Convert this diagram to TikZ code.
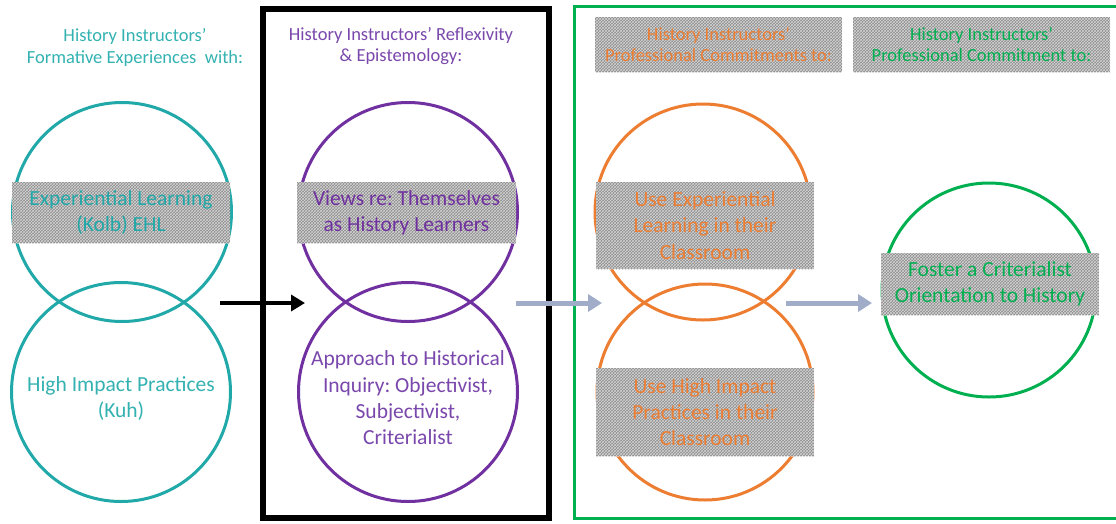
\documentclass[tikz,border=0pt]{standalone}
\usepackage{fontspec}
\setmainfont{Carlito}
\usetikzlibrary{arrows.meta,patterns}
\frenchspacing

\definecolor{tealline}{RGB}{33,168,168}
\definecolor{tealtext}{RGB}{52,178,178}
\definecolor{purpleline}{RGB}{112,48,160}
\definecolor{purpletext}{RGB}{122,72,172}
\definecolor{orangeline}{RGB}{237,125,49}
\definecolor{greenline}{RGB}{0,176,80}
\definecolor{flowarrow}{RGB}{160,172,200}
\definecolor{boxgray}{RGB}{140,140,140}
\definecolor{hatchlight}{RGB}{212,212,212}

\newcommand{\headfont}{\fontsize{18.5}{21.5}\selectfont}
\newcommand{\bodyfont}{\fontsize{21.5}{26.3}\selectfont}

\tikzset{
  ring/.style={circle, draw=#1, line width=3pt, inner sep=0pt},
  hatchbox/.style={rectangle, inner sep=0pt, align=center, font=\bodyfont,
    preaction={fill=boxgray}, pattern=crosshatch, pattern color=hatchlight},
  heading/.style={align=center, font=\headfont, inner sep=0pt},
  plain/.style={align=center, font=\bodyfont, inner sep=0pt},
  blackarrow/.style={line width=4.5pt, -{Triangle[length=14pt,width=16pt]}},
  greyarrow/.style={draw=flowarrow, line width=5pt, -{Triangle[length=14pt,width=17pt]}}
}

\begin{document}
\begin{tikzpicture}[x=1pt,y=-1pt]
\useasboundingbox (0,0) rectangle (1116,523);
\fill[white] (0,0) rectangle (1116,523);

% ---------- column 1: formative experiences ----------
\node[heading, text=tealtext] (headA) at (135,47.5)
  {History Instructors'\\Formative Experiences\ \ with:};
\node[ring=tealline, minimum size=219pt] (tealTop) at (122,212) {};
\node[ring=tealline, minimum size=219pt] (tealBot) at (121,392) {};
\node[hatchbox, text=tealline, minimum width=218pt, minimum height=61pt] (ehl) at (121,212.5)
  {Experiential Learning\\(Kolb) EHL};
\node[plain, text=tealtext] (hip) at (121,398.5) {High Impact Practices\\(Kuh)};

% ---------- column 2: reflexivity and epistemology ----------
\draw[line width=6pt] (263,9) rectangle (549,518);
\node[heading, text=purpletext] (headB) at (401,46)
  {History Instructors' Reflexivity\\\& Epistemology:};
\node[ring=purpleline, minimum size=219pt] (purTop) at (408,212) {};
\node[ring=purpleline, minimum size=219pt] (purBot) at (408,392) {};
\node[hatchbox, text=purpleline, minimum width=219pt, minimum height=61pt] (views) at (406.5,212.5)
  {Views re: Themselves\\as History Learners};
\node[plain, text=purpletext] (inquiry) at (408,398)
  {Approach to Historical\\Inquiry: Objectivist,\\Subjectivist,\\Criterialist};

% ---------- column 3: professional commitments ----------
\draw[greenline, line width=3pt] (1120,6) -- (574,6) -- (574,518) -- (1120,518);
\node[hatchbox, font=\headfont, text=orangeline, minimum width=247pt, minimum height=55pt] (headC) at (718.5,44.5)
  {History Instructors'\\Professional Commitments to:};
\node[hatchbox, font=\headfont, text=greenline, minimum width=257pt, minimum height=55pt] (headD) at (981.5,44.5)
  {History Instructors'\\Professional Commitment to:};

\node[ring=orangeline, minimum size=216pt] (orTop) at (703,212) {};
\node[ring=orangeline, minimum size=216pt] (orBot) at (705,392) {};
\node[hatchbox, text=orangeline, minimum width=218pt, minimum height=87pt] (useEL) at (705,225.5)
  {Use Experiential\\Learning in their\\Classroom};
\node[hatchbox, text=orangeline, minimum width=218pt, minimum height=88pt] (useHIP) at (705,412)
  {Use High Impact\\Practices in their\\Classroom};

\node[ring=greenline, minimum size=214pt] (grCirc) at (989,290) {};
\node[hatchbox, text=greenline, minimum width=218pt, minimum height=62pt] (foster) at (990,284)
  {Foster a Criterialist\\Orientation to History};

% ---------- connectors ----------
\coordinate (arA1) at (220,303);
\coordinate (arA2) at (305,303);
\coordinate (arB1) at (516,303);
\coordinate (arB2) at (602,303);
\coordinate (arC1) at (786,303);
\coordinate (arC2) at (872,303);
\draw[blackarrow] (arA1) -- (arA2);
\draw[greyarrow] (arB1) -- (arB2);
\draw[greyarrow] (arC1) -- (arC2);
\end{tikzpicture}
\end{document}
